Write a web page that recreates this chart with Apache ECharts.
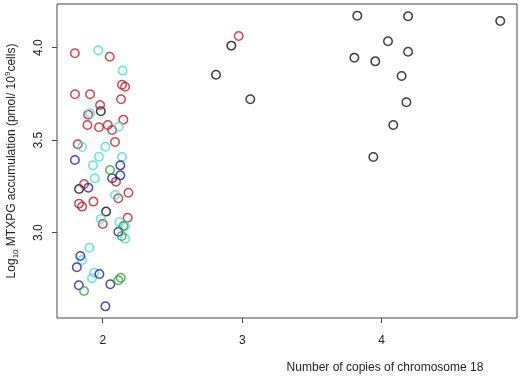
<!DOCTYPE html>
<html>
<head>
<meta charset="utf-8">
<script src="https://cdn.jsdelivr.net/npm/echarts@6/dist/echarts.min.js"></script>
<style>
  html, body { margin: 0; padding: 0; background: #fff; }
  #chart { width: 520px; height: 376px; }
</style>
</head>
<body>
<div id="chart"></div>
<script>
// Copies of chromosome 18 (x) vs log10 MTXPG accumulation (y), grouped by point colour
const blackPts = [
    [3.825, 4.173], [4.189, 4.170], [4.850, 4.144], [4.045, 4.035], [4.189, 3.978],
    [3.804, 3.946], [3.954, 3.926], [4.143, 3.847], [4.177, 3.705], [4.083, 3.582],
    [3.940, 3.409], [2.922, 4.011], [2.812, 3.854], [3.058, 3.721], [1.986, 3.656],
    [1.830, 3.236], [2.024, 3.114]
];
const redPts = [
    [2.975, 4.063], [1.800, 3.970], [2.050, 3.951], [2.138, 3.800], [2.160, 3.789],
    [1.801, 3.748], [1.909, 3.748], [2.131, 3.721], [1.981, 3.690], [1.895, 3.638],
    [2.148, 3.611], [1.890, 3.582], [1.973, 3.570], [2.036, 3.582], [2.067, 3.555],
    [1.821, 3.478], [2.088, 3.490], [2.095, 3.276], [1.866, 3.263], [2.112, 3.186],
    [2.184, 3.216], [1.830, 3.157], [1.852, 3.141], [1.933, 3.168], [2.000, 3.047],
    [2.179, 3.081]
];
const cyanPts = [
    [1.968, 3.986], [2.143, 3.876], [1.909, 3.645], [2.115, 3.573], [1.852, 3.463],
    [2.019, 3.465], [1.973, 3.411], [2.138, 3.409], [1.930, 3.364], [1.943, 3.294],
    [2.088, 3.204], [1.986, 3.074], [2.119, 3.058], [2.160, 3.036], [2.160, 2.968],
    [1.904, 2.919], [1.852, 2.852], [1.938, 2.784], [1.923, 2.754]
];
const bluePts = [
    [1.800, 3.393], [2.126, 3.364], [2.126, 3.310], [2.067, 3.294], [1.897, 3.243],
    [2.112, 3.005], [1.839, 2.874], [1.814, 2.813], [1.976, 2.777], [1.828, 2.716],
    [2.054, 2.721], [2.019, 2.602]
];
const greenPts = [
    [2.052, 3.339], [2.148, 3.036], [2.136, 2.982], [2.112, 2.743], [2.129, 2.757],
    [1.866, 2.685]
];

const xTicks = [2, 3, 4];
const yTicks = [3.0, 3.5, 4.0];

const chart = echarts.init(document.getElementById('chart'), null, { renderer: 'canvas' });

function ring(data, color) {
    return {
        type: 'scatter',
        data: data,
        symbol: 'circle',
        symbolSize: 8.5,
        itemStyle: { color: 'rgba(0,0,0,0)', borderColor: color, borderWidth: 1.5 }
    };
}

const font = 'Liberation Sans, Arial, sans-serif';

chart.setOption({
    animation: false,
    grid: {
        left: 57, right: 3, top: 4, bottom: 58,
        outerBoundsMode: 'none',
        containLabel: false,
        show: true, borderColor: '#444', borderWidth: 1
    },
    xAxis: {
        type: 'value',
        min: 1.672, max: 4.97,
        splitLine: { show: false },
        axisLine: { show: false },
        axisTick: { show: true, customValues: xTicks, length: 5, inside: false, lineStyle: { color: '#444' } },
        axisLabel: { customValues: xTicks, margin: 17, fontFamily: font, fontSize: 12, color: '#222' },
        name: 'Number of copies of chromosome 18',
        nameLocation: 'middle',
        nameGap: 44,
        nameTextStyle: { fontFamily: font, fontSize: 12, color: '#222', padding: [0, 0, 0, 196] }
    },
    yAxis: {
        type: 'value',
        min: 2.539, max: 4.236,
        splitLine: { show: false },
        axisLine: { show: false },
        axisTick: { show: true, customValues: yTicks, length: 5, lineStyle: { color: '#444' } },
        axisLabel: {
            customValues: yTicks, rotate: 90, margin: 12,
            fontFamily: font, fontSize: 12, color: '#222',
            formatter: v => v.toFixed(1)
        },
        name: '{a|Log}{s|10}{a| MTXPG accumulation (pmol/ 10}{p|9}{a|cells)}',
        nameLocation: 'middle',
        nameRotate: 90,
        nameGap: 37,
        nameTextStyle: {
            rich: {
                a: { fontFamily: font, fontSize: 12, color: '#222', lineHeight: 16 },
                s: { fontFamily: font, fontSize: 8, color: '#222', verticalAlign: 'bottom', lineHeight: 10 },
                p: { fontFamily: font, fontSize: 8, color: '#222', verticalAlign: 'top', lineHeight: 10 }
            }
        }
    },
    series: [
        ring(blackPts, '#111111'),
        ring(redPts, '#B3222E'),
        ring(cyanPts, '#45DDDD'),
        ring(bluePts, '#22228C'),
        ring(greenPts, '#2FA33A')
    ]
});

window.addEventListener('resize', () => chart.resize());
</script>
</body>
</html>
